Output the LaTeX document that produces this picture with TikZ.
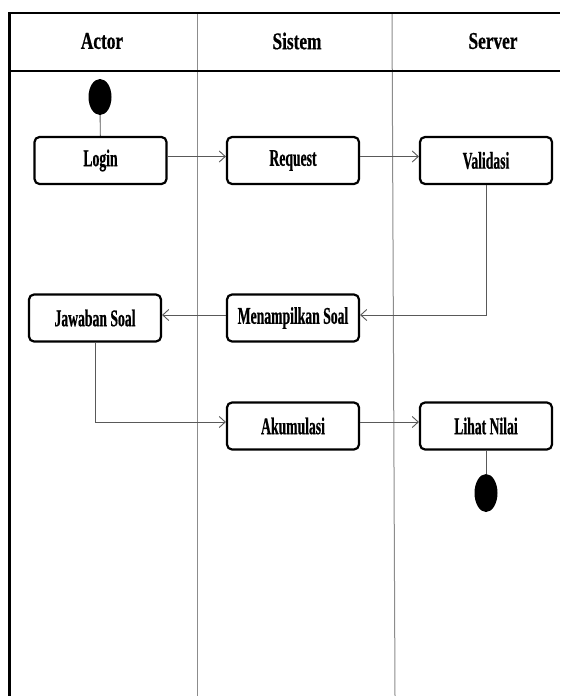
\documentclass[tikz,border=0pt]{standalone}
\usepackage{fontspec}
\setmainfont{Liberation Serif}
\newfontfamily\hdfont[FakeStretch=0.72,FakeBold=0.6]{Liberation Serif}
\newfontfamily\bxfont[FakeStretch=0.57,FakeBold=0.6]{Liberation Serif}
\usetikzlibrary{arrows.meta,shapes.geometric}
\begin{document}
\begin{tikzpicture}[x=1pt,y=-1pt,
 act/.style={draw=black, line width=2.2pt, rounded corners=5pt, minimum width=132pt, minimum height=47pt, inner sep=0pt, font=\bxfont\bfseries\fontsize{24}{27}\selectfont, fill=white},
 hd/.style={font=\hdfont\bfseries\fontsize{24}{27}\selectfont, inner sep=0pt},
 flow/.style={draw=black!65, line width=0.9pt, -{Straight Barb[length=6pt,width=11pt,line width=0.9pt]}},
 plain/.style={draw=black!65, line width=0.9pt},
 dot/.style={ellipse, fill=black, minimum width=23pt, minimum height=36pt, inner sep=0pt},
 lane/.style={draw=black!45, line width=1pt}]
\useasboundingbox (0,0) rectangle (560,696);
\fill[white] (0,0) rectangle (560,696);
% swimlanes
\draw[lane] (197,13) -- (197,696);
\draw[lane] (392,13) -- (395,696);
\draw[line width=2.5pt] (9.5,696) -- (9.5,13) -- (560,13);
\draw[line width=1.8pt] (9.5,71) -- (560,71);
% headers
\node[hd] (hA) at (102,41) {Actor};
\node[hd] (hS) at (297,41) {Sistem};
\node[hd] (hV) at (493,41) {Server};
% nodes
\node[dot] (start) at (100,97) {};
\node[act] (login) at (100.5,160.5) {Login};
\node[act] (req) at (293,160.5) {Request};
\node[act] (val) at (486,160.5) {Validasi};
\node[act] (jaw) at (95,318) {Jawaban Soal};
\node[act] (men) at (293,318) {Menampilkan Soal};
\node[act] (aku) at (293,426) {Akumulasi};
\node[act] (lih) at (486,426) {Lihat Nilai};
\node[dot, minimum height=38pt] (end) at (486,493) {};
% connectors
\draw[plain] (start) -- (login);
\draw[flow] ([yshift=4pt]login.east) -- ([yshift=4pt]req.west);
\draw[flow] ([yshift=4pt]req.east) -- ([yshift=4pt]val.west);
\draw[flow] (val.south) |- ([yshift=3pt]men.east);
\draw[flow] ([yshift=3pt]men.west) -- ([yshift=3pt]jaw.east);
\draw[flow] (jaw.south) |- ([yshift=4pt]aku.west);
\draw[flow] ([yshift=4pt]aku.east) -- ([yshift=4pt]lih.west);
\draw[plain] (lih) -- (end);
\end{tikzpicture}
\end{document}
